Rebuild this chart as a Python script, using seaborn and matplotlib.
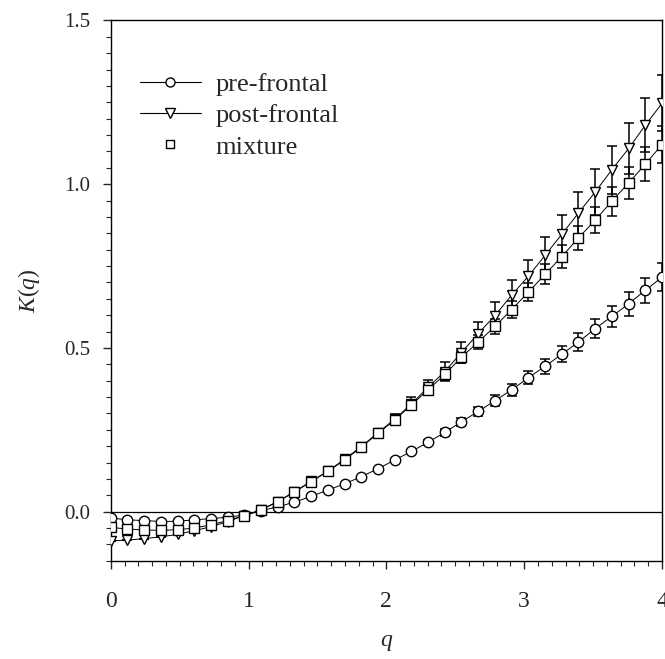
import numpy as np
import pandas as pd
import matplotlib
matplotlib.use("Agg")
import matplotlib.pyplot as plt
from matplotlib.ticker import MultipleLocator
from matplotlib.lines import Line2D
import seaborn as sns

# -----------------------------------------
# Datos
# -----------------------------------------
q = [0.000, 0.121, 0.242, 0.364, 0.485, 0.606, 0.727, 0.848, 0.970, 1.091,
     1.212, 1.333, 1.455, 1.576, 1.697, 1.818, 1.939, 2.061, 2.182, 2.303,
     2.424, 2.545, 2.667, 2.788, 2.909, 3.030, 3.152, 3.273, 3.394, 3.515,
     3.636, 3.758, 3.879, 4.000]

k_pre = [-0.019, -0.025, -0.027, -0.030, -0.029, -0.025, -0.021, -0.017, -0.010, 0.003,
         0.015, 0.029, 0.047, 0.066, 0.085, 0.107, 0.131, 0.158, 0.184, 0.212,
         0.242, 0.275, 0.306, 0.339, 0.372, 0.409, 0.444, 0.481, 0.518, 0.559,
         0.596, 0.635, 0.676, 0.716]
err_pre = [0, 0, 0, 0, 0, 0, 0, 0, 0, 0,
           0, 0, 0, 0, 0, 0, 0.003, 0.004, 0.005, 0.008,
           0.010, 0.012, 0.014, 0.016, 0.018, 0.020, 0.023, 0.025, 0.028, 0.030,
           0.033, 0.036, 0.039, 0.043]

k_post = [-0.089, -0.087, -0.082, -0.077, -0.069, -0.058, -0.046, -0.030, -0.012, 0.006,
          0.031, 0.061, 0.093, 0.124, 0.160, 0.199, 0.241, 0.283, 0.329, 0.380,
          0.428, 0.486, 0.544, 0.599, 0.661, 0.719, 0.783, 0.847, 0.912, 0.976,
          1.044, 1.109, 1.180, 1.247]
err_post = [0, 0, 0, 0, 0, 0, 0, 0, 0, 0,
            0, 0, 0.003, 0.004, 0.006, 0.009, 0.012, 0.016, 0.020, 0.023,
            0.028, 0.032, 0.036, 0.042, 0.046, 0.051, 0.056, 0.060, 0.064, 0.069,
            0.073, 0.078, 0.082, 0.086]

k_mix = [-0.048, -0.053, -0.056, -0.057, -0.055, -0.050, -0.040, -0.027, -0.012, 0.005,
         0.031, 0.060, 0.092, 0.123, 0.158, 0.197, 0.239, 0.280, 0.326, 0.372,
         0.419, 0.472, 0.518, 0.566, 0.617, 0.670, 0.725, 0.779, 0.836, 0.890,
         0.948, 1.004, 1.061, 1.121]
err_mix = [0, 0, 0, 0, 0, 0, 0, 0, 0, 0,
           0, 0, 0, 0.003, 0.005, 0.007, 0.009, 0.010, 0.012, 0.014,
           0.016, 0.018, 0.020, 0.022, 0.025, 0.028, 0.031, 0.034, 0.037, 0.040,
           0.044, 0.048, 0.052, 0.057]

series_names = ["pre-frontal", "post-frontal", "mixture"]

# -----------------------------------------
# Estilo
# -----------------------------------------
sns.set_style("ticks")
plt.rcParams["font.family"] = ["Liberation Serif", "DejaVu Serif"]
plt.rcParams["mathtext.fontset"] = "custom"
plt.rcParams["mathtext.rm"] = "Liberation Serif"
plt.rcParams["mathtext.it"] = "Liberation Serif:italic"

fig = plt.figure(figsize=(6.65, 6.59), dpi=100)
ax = fig.add_axes([0.1665, 0.149, 0.829, 0.820])

estilos = {
    "pre-frontal": dict(y=k_pre, e=err_pre, marker="o", ms=7.5),
    "post-frontal": dict(y=k_post, e=err_post, marker="v", ms=7.5),
    "mixture": dict(y=k_mix, e=err_mix, marker="s", ms=6.5),
}

ax.axhline(0, color="black", lw=0.9, zorder=1)

for nombre in series_names:
    st = estilos[nombre]
    df = pd.DataFrame({"q": q, "K": st["y"]})
    ax.errorbar(q, st["y"], yerr=st["e"], fmt="none", ecolor="black",
                elinewidth=1.1, capsize=3.5, capthick=1.1, zorder=2)
    sns.lineplot(data=df, x="q", y="K", ax=ax, color="black", lw=0.7,
                 marker=st["marker"], markersize=st["ms"], markerfacecolor="white",
                 markeredgecolor="black", markeredgewidth=1.0, zorder=3)

# -----------------------------------------
# Ejes
# -----------------------------------------
ax.set_xlim(0, 4)
ax.set_ylim(-0.15, 1.5)
ax.xaxis.set_major_locator(MultipleLocator(1))
ax.xaxis.set_minor_locator(MultipleLocator(0.1))
ax.yaxis.set_major_locator(MultipleLocator(0.5))
ax.yaxis.set_minor_locator(MultipleLocator(0.05))
ax.xaxis.set_major_formatter(plt.FuncFormatter(lambda v, p: f"{v:.0f}"))
ax.yaxis.set_major_formatter(plt.FuncFormatter(lambda v, p: f"{v:.1f}"))

ax.tick_params(axis="x", which="major", direction="out", length=6, width=1,
               labelsize=17, pad=16)
ax.tick_params(axis="y", which="major", direction="out", length=6, width=1,
               labelsize=15, pad=9)
ax.tick_params(which="minor", direction="out", length=3.5, width=0.8)

for lado in ["left", "bottom", "top", "right"]:
    ax.spines[lado].set_visible(True)
    ax.spines[lado].set_color("black")
    ax.spines[lado].set_linewidth(1.0)

ax.set_xlabel("$q$", fontsize=17, labelpad=14)
ax.set_ylabel("$K(q)$", fontsize=17, labelpad=16)

# -----------------------------------------
# Leyenda
# -----------------------------------------
manejadores = [
    Line2D([], [], color="black", lw=0.8, marker="o", ms=6.5,
           mfc="white", mec="black"),
    Line2D([], [], color="black", lw=0.8, marker="v", ms=6.5,
           mfc="white", mec="black"),
    Line2D([], [], color="black", lw=0, marker="s", ms=5.5,
           mfc="white", mec="black"),
]
ax.legend(manejadores, series_names, loc="upper left", bbox_to_anchor=(0.010, 0.948),
          frameon=False, fontsize=19, handlelength=2.3, handletextpad=0.55,
          labelspacing=0.3, borderpad=0.4)

plt.savefig("out.png", dpi=100)
